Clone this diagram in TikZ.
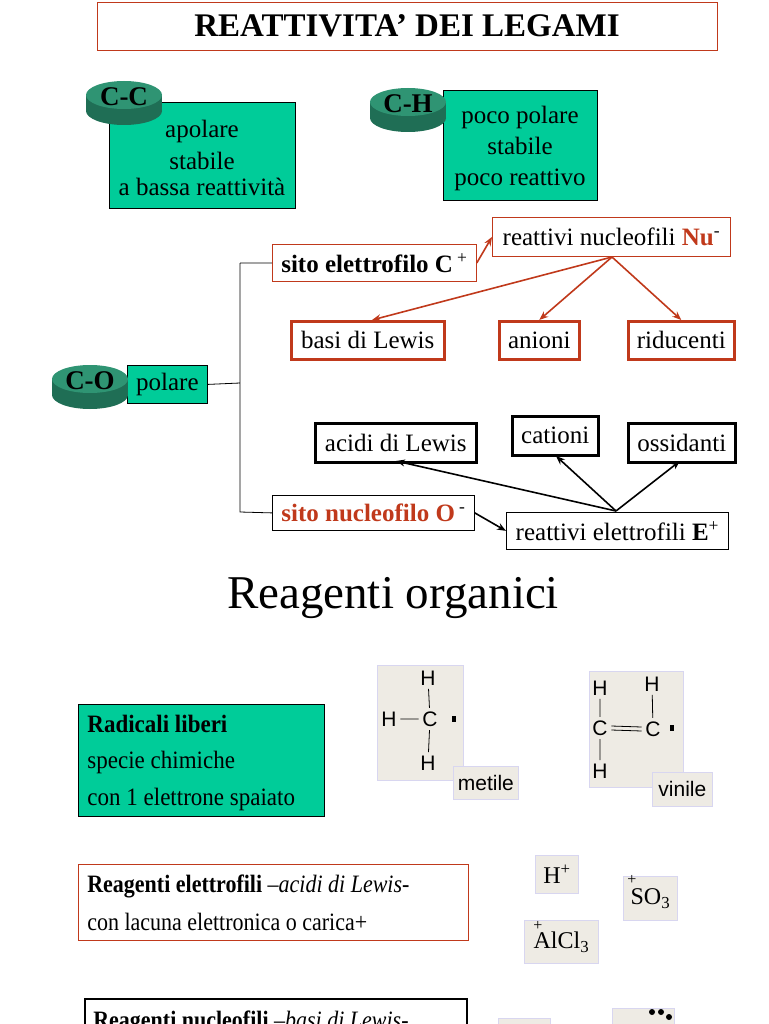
\documentclass[tikz,border=0pt]{standalone}
\usepackage{fontspec}
\setmainfont{Liberation Serif}
\newfontfamily\sans{Liberation Sans}
\usetikzlibrary{arrows.meta}
\definecolor{grn}{HTML}{00CC99}
\definecolor{cyl}{HTML}{2F9473}
\definecolor{cyld}{HTML}{1F6E55}
\definecolor{rd}{HTML}{C0391B}
\definecolor{beige}{HTML}{EEEBE4}
\definecolor{lav}{HTML}{D8D6F0}
\begin{document}
\begin{tikzpicture}[x=1pt,y=-1pt,line width=0.8pt,
  txt/.style={font=\fontsize{25}{28}\selectfont},
  gbox/.style={draw=black,fill=grn,inner sep=0},
  rbox/.style={draw=rd,inner sep=0},
  rtbox/.style={draw=rd,line width=2.5pt,inner sep=0},
  btbox/.style={draw=black,line width=2.5pt,inner sep=0},
  kbox/.style={draw=black,inner sep=0},
  chem/.style={fill=beige,draw=lav,inner sep=0},
  rarr/.style={draw=rd,line width=1.6pt,-{Stealth[length=9pt,width=7pt]}},
  karr/.style={draw=black,line width=1.6pt,-{Stealth[length=9pt,width=7pt]}}]
\useasboundingbox (0,0) rectangle (768,1024);
\clip (0,0) rectangle (768,1024);
\newcommand{\cylinder}[4]{% cx, top cy, name, label
  \fill[cyld] (#1-38,#2) rectangle (#1+38,#2+16);
  \fill[cyld] (#1,#2+16) ellipse (38 and 14);
  \fill[cyl] (#1,#2) ellipse (38 and 14);
  \node[font=\fontsize{27}{28}\selectfont\bfseries] (#3) at (#1,#2+2) {#4};}
% title
\node[rbox,minimum width=620,minimum height=48,font=\fontsize{33}{36}\selectfont\bfseries] (title) at (407,26) {REATTIVITA’ DEI LEGAMI};
% C-C
\node[gbox,minimum width=186,minimum height=106,anchor=north west] (ccbox) at (109,102) {};
\node[txt,align=center] (cct) at (202,158) {apolare\\[4pt]stabile\\[-2pt]a bassa reattività};
\cylinder{124}{95}{cc}{C-C}
% C-H
\node[gbox,minimum width=154,minimum height=110,anchor=north west] (chbox) at (443,90) {};
\node[txt,align=center] (cht) at (520,148) {poco polare\\[3pt]stabile\\[3pt]poco reattivo};
\cylinder{408}{102}{ch}{C-H}
% C-O
\node[gbox,minimum width=80,minimum height=38,anchor=north west,txt] (pol) at (127,365) {polare};
\cylinder{90}{379}{co}{C-O}
% tree
\node[rbox,minimum width=204,minimum height=37,anchor=north west,txt] (sel) at (272,244) {\textbf{sito elettrofilo C}\,\textsuperscript{+}};
\node[kbox,minimum width=202,minimum height=35,anchor=north west,txt] (snu) at (272,495) {\textcolor{rd}{\textbf{sito nucleofilo O}}\,\textsuperscript{-}};
\coordinate (j) at (240,383);
\draw (pol.east) -- (j) (240,263) -- (sel.west) (240,263) -- (240,512) -- (snu.west);
\node[rbox,minimum width=238,minimum height=39,anchor=north west,txt] (rnu) at (492,217) {reattivi nucleofili \textcolor{rd}{\textbf{Nu}}\textsuperscript{-}};
\node[rtbox,minimum width=153,minimum height=38,anchor=north west,txt] (bas) at (290,320) {basi di Lewis};
\node[rtbox,minimum width=80,minimum height=38,anchor=north west,txt] (ani) at (498,320) {anioni};
\node[rtbox,minimum width=106,minimum height=38,anchor=north west,txt] (rid) at (627,320) {riducenti};
\coordinate (nuo) at (612,257);
\draw[rarr] (sel.east) -- (rnu.west);
\draw[rarr] (nuo) -- (372,320);
\draw[rarr] (nuo) -- (ani.north);
\draw[rarr] (nuo) -- (rid.north);
\node[btbox,minimum width=161,minimum height=39,anchor=north west,txt] (aci) at (314,422) {acidi di Lewis};
\node[btbox,minimum width=86,minimum height=39,anchor=north west,txt] (cat) at (511,415) {cationi};
\node[btbox,minimum width=107,minimum height=39,anchor=north west,txt] (oss) at (627,422) {ossidanti};
\node[kbox,minimum width=222,minimum height=37,anchor=north west,txt] (rel) at (506,512) {reattivi elettrofili \textbf{E}\textsuperscript{+}};
\coordinate (elo) at (616,511);
\draw[karr] (snu.east) -- (rel.west);
\draw[karr] (elo) -- (396,461);
\draw[karr] (elo) -- (556,456);
\draw[karr] (elo) -- (680,461);
% Reagenti organici
\node[font=\fontsize{47}{50}\selectfont] (ro) at (393,598) {Reagenti organici};
% radicali
\node[gbox,minimum width=246,minimum height=112,anchor=north west] (rad) at (78,704) {};
\node[font=\fontsize{25}{28}\selectfont,anchor=west,xscale=0.92,transform shape] (r1) at (84,724) {\textbf{Radicali liberi}};
\node[font=\fontsize{25}{28}\selectfont,anchor=west,xscale=0.92,transform shape] (r2) at (84,762) {specie chimiche};
\node[font=\fontsize{25}{28}\selectfont,anchor=west,xscale=0.92,transform shape] (r3) at (84,799) {con 1 elettrone spaiato};
% metile
\node[chem,minimum width=86,minimum height=115,anchor=north west] (met) at (377,665) {};
\begin{scope}[font=\sans\fontsize{21}{22}\selectfont]
\node (m1) at (428,678) {H};
\node (m2) at (430,719) {C};
\node (m3) at (428,763) {H};
\node (m4) at (389,719) {H};
\draw (m1) -- (m2) (m2) -- (m3) (m4) -- (m2);
\fill (452,716) rectangle (456,722);
\node[chem,minimum width=65,minimum height=33,anchor=north west] (metl) at (453,766) {metile};
\node[chem,minimum width=94,minimum height=116,anchor=north west] (vin) at (589,671) {};
\node (v1) at (600,688) {H};
\node (v2) at (600,728) {C};
\node (v3) at (600,771) {H};
\node (v4) at (652,684) {H};
\node (v5) at (653,729) {C};
\draw (v1) -- (v2) (v2) -- (v3) (v4) -- (v5);
\draw ([yshift=-2]v2.east) -- ([yshift=-2]v5.west) ([yshift=2]v2.east) -- ([yshift=2]v5.west);
\fill (670,725) rectangle (674,731);
\node[chem,minimum width=60,minimum height=34,anchor=north west] (vinl) at (652,772) {vinile};
\end{scope}
% elettrofili
\node[rbox,minimum width=390,minimum height=76,anchor=north west] (ele) at (78,864) {};
\node[font=\fontsize{25}{28}\selectfont,anchor=west,xscale=0.88,transform shape] (e1) at (84,886) {\textbf{Reagenti elettrofili} \textit{–acidi di Lewis-}};
\node[font=\fontsize{25}{28}\selectfont,anchor=west,xscale=0.88,transform shape] (e2) at (84,922) {con lacuna elettronica o carica+};
\node[chem,minimum width=43,minimum height=38,anchor=north west,font=\fontsize{24}{26}\selectfont] (hp) at (535,855) {H\textsuperscript{+}};
\node[chem,minimum width=54,minimum height=44,anchor=north west,font=\fontsize{24}{26}\selectfont] (so) at (623,876) {SO\textsubscript{3}};
\node[font=\fontsize{16}{16}\selectfont,inner sep=0] (sop) at (632,880) {+};
\node[chem,minimum width=74,minimum height=43,anchor=north west,font=\fontsize{24}{26}\selectfont] (al) at (524,920) {AlCl\textsubscript{3}};
\node[font=\fontsize{16}{16}\selectfont,inner sep=0] (alp) at (538,926) {+};
% nucleofili (cut off)
\node[draw=black,line width=1.5pt,inner sep=0,minimum width=382,minimum height=60,anchor=north west] (nuc) at (84,998) {};
\node[font=\fontsize{25}{28}\selectfont,anchor=west,xscale=0.88,transform shape] (n1) at (90,1022) {\textbf{Reagenti nucleofili} \textit{–basi di Lewis-}};
\node[chem,minimum width=52,minimum height=40,anchor=north west] (nb1) at (498,1018) {};
\node[chem,minimum width=62,minimum height=40,anchor=north west] (nb2) at (612,1008) {};
\fill (652,1012) circle (3) (661,1012) circle (3) (669,1017) circle (3);
\end{tikzpicture}
\end{document}
